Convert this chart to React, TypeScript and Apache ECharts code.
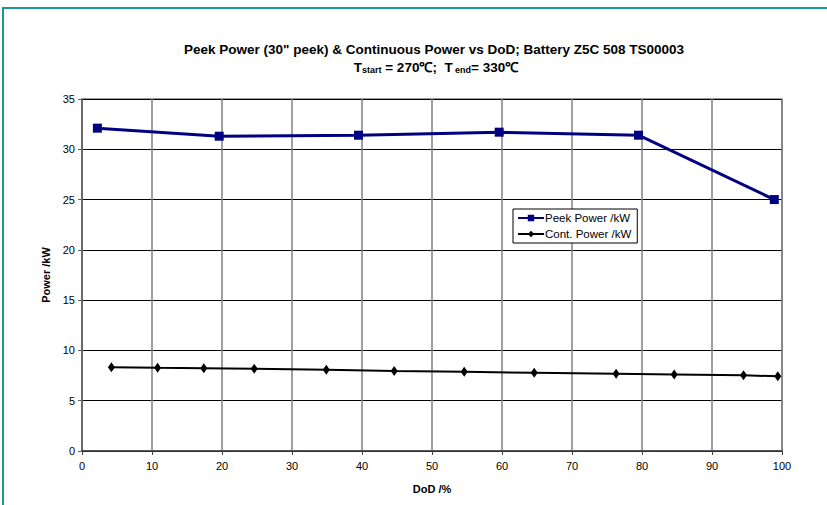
import React, { useEffect, useRef } from "react";
import * as echarts from "echarts";

const peakDoD = [2.2, 19.6, 39.5, 59.6, 79.5, 98.9];
const peakPower = [32.1, 31.3, 31.4, 31.7, 31.4, 25.0];
const contDoD = [4.2, 10.8, 17.4, 24.6, 34.9, 44.6, 54.6, 64.6, 76.3, 84.6, 94.5, 99.4];
const contPower = [8.33, 8.27, 8.23, 8.17, 8.08, 7.95, 7.87, 7.78, 7.68, 7.6, 7.52, 7.43];
const seriesNames = ["Peek Power /kW", "Cont. Power /kW"];
const titleLine1 = 'Peek Power (30" peek) & Continuous Power vs DoD; Battery Z5C 508 TS00003';

const FONT = "Liberation Sans, Arial, sans-serif";

export default function App() {
  const ref = useRef<HTMLDivElement>(null);
  useEffect(() => {
    if (!ref.current) return;
    const chart = echarts.init(ref.current, undefined, { renderer: "svg" });
    chart.setOption({
      animation: false,
      backgroundColor: "#ffffff",
      textStyle: { fontFamily: FONT },
      title: [
        {
          text: titleLine1,
          left: 429,
          top: 37,
          textAlign: "center",
          textStyle: { fontSize: 13.5, fontWeight: "bold", color: "#000", fontFamily: FONT },
        },
        {
          text: "{b|T}{s|start}{b| = 270\u2103;  T}{s| end}{b|= 330\u2103}",
          left: 431,
          top: 51,
          textAlign: "center",
          textStyle: {
            fontFamily: FONT,
            rich: {
              b: { fontSize: 13.5, fontWeight: "bold", color: "#000", fontFamily: FONT, lineHeight: 18, verticalAlign: "bottom" },
              s: { fontSize: 9, fontWeight: "bold", color: "#000", fontFamily: FONT, lineHeight: 16, verticalAlign: "bottom" },
            },
          },
        },
      ],
      graphic: [
        {
          type: "rect",
          shape: { x: 3, y: 8, width: 900, height: 600 },
          style: { fill: "none", stroke: "#1f9494", lineWidth: 2 },
          silent: true,
          z: 100,
        },
      ],
      grid: {
        left: 82,
        right: 45,
        top: 99,
        bottom: 54,
        show: true,
        borderColor: "#808080",
        borderWidth: 1.5,
      },
      legend: {
        orient: "vertical",
        left: 513,
        top: 209,
        width: 120,
        itemWidth: 26,
        itemHeight: 8,
        itemGap: 4,
        padding: [3, 6, 3, 4],
        backgroundColor: "#ffffff",
        borderColor: "#000000",
        borderWidth: 1,
        borderRadius: 0,
        textStyle: { fontSize: 11.5, color: "#000", fontFamily: FONT, padding: [0, 0, 0, -4] },
        data: seriesNames,
      },
      xAxis: {
        type: "value",
        min: 0,
        max: 100,
        interval: 10,
        name: "DoD /%",
        nameLocation: "middle",
        nameGap: 32,
        nameTextStyle: { fontSize: 11, fontWeight: "bold", color: "#000", fontFamily: FONT },
        axisLine: { show: true, onZero: false, lineStyle: { color: "#404040", width: 1.5 } },
        axisTick: { show: true, length: 4, inside: false, lineStyle: { color: "#404040" } },
        axisLabel: { fontSize: 11, color: "#000", margin: 9, fontFamily: FONT },
        splitLine: { show: true, lineStyle: { color: "#808080", width: 1.5 } },
      },
      yAxis: {
        type: "value",
        min: 0,
        max: 35,
        interval: 5,
        name: "Power /kW",
        nameLocation: "middle",
        nameGap: 28,
        nameRotate: 90,
        nameTextStyle: { fontSize: 11, fontWeight: "bold", color: "#000", fontFamily: FONT },
        axisLine: { show: true, lineStyle: { color: "#606060", width: 1.5 } },
        axisTick: { show: true, length: 4, lineStyle: { color: "#606060" } },
        axisLabel: { fontSize: 11, color: "#000", margin: 7, fontFamily: FONT },
        splitLine: { show: true, lineStyle: { color: "#000000", width: 1 } },
      },
      series: [
        {
          name: seriesNames[0],
          type: "line",
          data: peakDoD.map((x, i) => [x, peakPower[i]]),
          color: "#000080",
          lineStyle: { color: "#000080", width: 3 },
          itemStyle: { color: "#000080" },
          symbol: "rect",
          symbolSize: 9,
          z: 5,
        },
        {
          name: seriesNames[1],
          type: "line",
          data: contDoD.map((x, i) => [x, contPower[i]]),
          color: "#000000",
          lineStyle: { color: "#000000", width: 2 },
          itemStyle: { color: "#000000" },
          symbol: "diamond",
          symbolSize: [7, 10],
          z: 4,
        },
      ],
    });
    return () => chart.dispose();
  }, []);
  return (
    <div
      ref={ref}
      style={{ position: "fixed", left: 0, top: 0, width: 827, height: 505, background: "#fff" }}
    />
  );
}
